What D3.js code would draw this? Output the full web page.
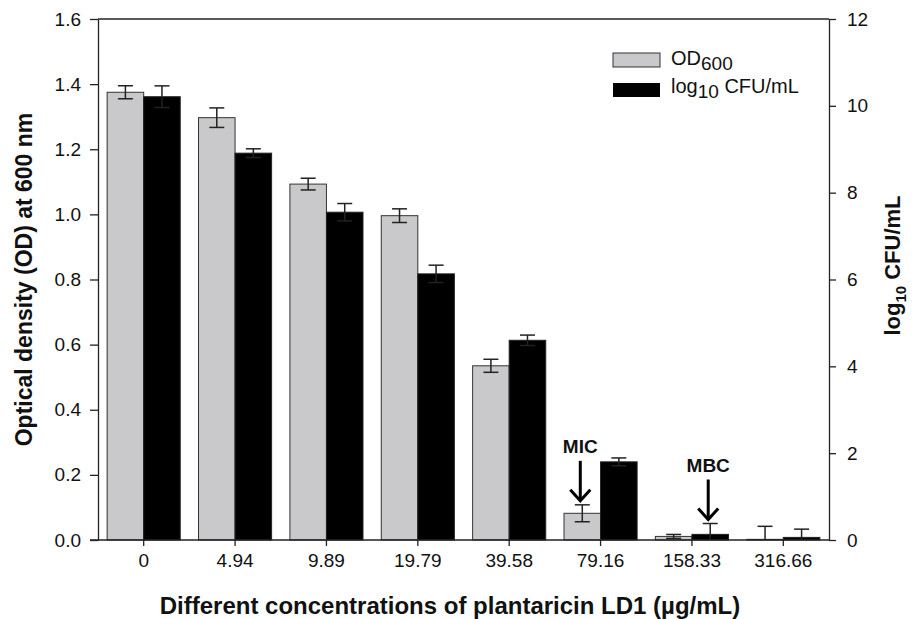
<!DOCTYPE html>
<html>
<head>
<meta charset="utf-8">
<script src="https://cdn.jsdelivr.net/npm/d3@7"></script>
<style>
  body { margin: 0; background: #fff; }
  text { font-family: "Liberation Sans", Arial, sans-serif; fill: #111; }
</style>
</head>
<body>
<svg id="chart" width="912" height="619"></svg>
<script>
// Data
const concentrations = ["0", "4.94", "9.89", "19.79", "39.58", "79.16", "158.33", "316.66"];
const odValues = [1.375, 1.297, 1.093, 0.996, 0.535, 0.082, 0.011, 0.002];
const odErrors = [0.02, 0.03, 0.018, 0.021, 0.02, 0.026, 0.006, 0.04];
const cfuValues = [10.21, 8.91, 7.55, 6.13, 4.6, 1.8, 0.13, 0.06];
const cfuErrors = [0.25, 0.1, 0.2, 0.2, 0.12, 0.09, 0.25, 0.19];
const leftTicks = [0, 0.2, 0.4, 0.6, 0.8, 1.0, 1.2, 1.4, 1.6];
const rightTicks = [0, 2, 4, 6, 8, 10, 12];

const margin = { top: 19, right: 83, bottom: 79, left: 98 };
const svg = d3.select("#chart");
const width = 912 - margin.left - margin.right,
  height = 619 - margin.top - margin.bottom;

const g = svg.append("g")
  .attr("transform", "translate(" + margin.left + "," + margin.top + ")");

// Scales
const x0 = d3.scaleBand().domain(concentrations).range([0, width])
  .paddingInner(0.2).paddingOuter(0.1);
const x1 = d3.scaleBand().domain(["od", "cfu"]).range([0, x0.bandwidth()]);
const yLeft = d3.scaleLinear().domain([0, 1.6]).range([height, 0]);
const yRight = d3.scaleLinear().domain([0, 12]).range([height, 0]);

const rows = concentrations.map((c, i) => ({
  c: c,
  od: odValues[i], odErr: odErrors[i],
  cfu: cfuValues[i], cfuErr: cfuErrors[i]
}));

// frame top line
g.append("line")
  .attr("x1", 0).attr("x2", width).attr("y1", 0).attr("y2", 0)
  .attr("stroke", "#222").attr("stroke-width", 1.3);

// Bars
const groups = g.selectAll(".grp").data(rows).enter().append("g")
  .attr("class", "grp")
  .attr("transform", d => "translate(" + x0(d.c) + ",0)");

groups.append("rect")
  .attr("x", x1("od"))
  .attr("y", d => yLeft(d.od))
  .attr("width", x1.bandwidth())
  .attr("height", d => height - yLeft(d.od))
  .attr("fill", "#c9c9cb")
  .attr("stroke", "#333").attr("stroke-width", 1);

groups.append("rect")
  .attr("x", x1("cfu"))
  .attr("y", d => yRight(d.cfu))
  .attr("width", x1.bandwidth())
  .attr("height", d => height - yRight(d.cfu))
  .attr("fill", "#000")
  .attr("stroke", "#222").attr("stroke-width", 1);

// Error bars
const capW = 7.5;
function errBar(sel, key, errKey, scale) {
  const cx = x1(key) + x1.bandwidth() / 2;
  const eb = sel.append("g").attr("stroke", "#222").attr("stroke-width", 1.5);
  eb.append("line")
    .attr("x1", cx).attr("x2", cx)
    .attr("y1", d => scale(Math.max(0, d[key] - d[errKey])))
    .attr("y2", d => scale(d[key] + d[errKey]));
  eb.append("line")
    .attr("x1", cx - capW).attr("x2", cx + capW)
    .attr("y1", d => scale(d[key] + d[errKey]))
    .attr("y2", d => scale(d[key] + d[errKey]));
  eb.filter(d => d[key] - d[errKey] > 0).append("line")
    .attr("x1", cx - capW).attr("x2", cx + capW)
    .attr("y1", d => scale(d[key] - d[errKey]))
    .attr("y2", d => scale(d[key] - d[errKey]));
}
errBar(groups, "od", "odErr", yLeft);
errBar(groups, "cfu", "cfuErr", yRight);

// Axes
const xAxis = g.append("g")
  .attr("transform", "translate(0," + height + ")")
  .call(d3.axisBottom(x0).tickSize(6).tickSizeOuter(0).tickPadding(8));
const leftAxis = g.append("g")
  .call(d3.axisLeft(yLeft).tickValues(leftTicks).tickFormat(d3.format(".1f"))
    .tickSize(8).tickSizeOuter(0).tickPadding(9));
const rightAxis = g.append("g")
  .attr("transform", "translate(" + width + ",0)")
  .call(d3.axisRight(yRight).tickValues(rightTicks).tickFormat(d3.format("d"))
    .tickSize(7).tickSizeOuter(0).tickPadding(11));

[xAxis, leftAxis, rightAxis].forEach(a => {
  a.selectAll("path, line").attr("stroke", "#222").attr("stroke-width", 1.3);
  a.selectAll("text").attr("font-size", 19).attr("fill", "#111")
    .style("font-family", "Liberation Sans, Arial, sans-serif");
});
// bottom axis line reaches left tick
xAxis.select(".domain").attr("d", "M-8,0H" + width);

// Axis titles
svg.append("text")
  .attr("transform", "translate(32," + (margin.top + height / 2) + ") rotate(-90)")
  .attr("text-anchor", "middle")
  .attr("font-size", 23).attr("font-weight", "bold")
  .text("Optical density (OD) at 600 nm");

const rt = svg.append("text")
  .attr("transform", "translate(900," + (margin.top + height / 2 - 14) + ") rotate(-90)")
  .attr("text-anchor", "middle")
  .attr("font-size", 22).attr("font-weight", "bold");
rt.append("tspan").text("log");
rt.append("tspan").attr("font-size", 15).attr("dy", 6).text("10");
rt.append("tspan").attr("dy", -6).text(" CFU/mL");

svg.append("text")
  .attr("x", 450)
  .attr("y", 614)
  .attr("text-anchor", "middle")
  .attr("font-size", 24).attr("font-weight", "bold")
  .text("Different concentrations of plantaricin LD1 (\u00b5g/mL)");

// Legend
const legend = svg.append("g").attr("transform", "translate(613,53)");
legend.append("rect").attr("x", 0).attr("y", 0).attr("width", 47).attr("height", 14)
  .attr("fill", "#c9c9cb").attr("stroke", "#333").attr("stroke-width", 1);
legend.append("rect").attr("x", 0).attr("y", 30).attr("width", 47).attr("height", 14)
  .attr("fill", "#000");
const l1 = legend.append("text").attr("x", 58).attr("y", 12).attr("font-size", 20);
l1.append("tspan").text("OD");
l1.append("tspan").attr("font-size", 19).attr("dy", 5).text("600");
const l2 = legend.append("text").attr("x", 58).attr("y", 40).attr("font-size", 20);
l2.append("tspan").text("log");
l2.append("tspan").attr("font-size", 19).attr("dy", 5).text("10");
l2.append("tspan").attr("dy", -5).text(" CFU/mL");

// MIC / MBC annotations
const notes = [
  { label: "MIC", c: "79.16", key: "od", errKey: "odErr", scale: yLeft, len: 40 },
  { label: "MBC", c: "158.33", key: "cfu", errKey: "cfuErr", scale: yRight, len: 40 }
];
notes.forEach(n => {
  const r = rows.find(d => d.c === n.c);
  const cx = margin.left + x0(n.c) + x1(n.key) + x1.bandwidth() / 2 - 2;
  const yEnd = margin.top + n.scale(r[n.key] + r[n.errKey]) - 4;
  const yStart = yEnd - n.len;
  svg.append("line").attr("x1", cx).attr("x2", cx).attr("y1", yStart).attr("y2", yEnd)
    .attr("stroke", "#000").attr("stroke-width", 3);
  svg.append("path")
    .attr("d", "M" + (cx - 10) + "," + (yEnd - 11) + "L" + cx + "," + yEnd + "L" + (cx + 10) + "," + (yEnd - 11))
    .attr("fill", "none").attr("stroke", "#000").attr("stroke-width", 3);
  svg.append("text").attr("x", cx).attr("y", yStart - 8)
    .attr("text-anchor", "middle").attr("font-size", 19).attr("font-weight", "bold")
    .text(n.label);
});
</script>
</body>
</html>
